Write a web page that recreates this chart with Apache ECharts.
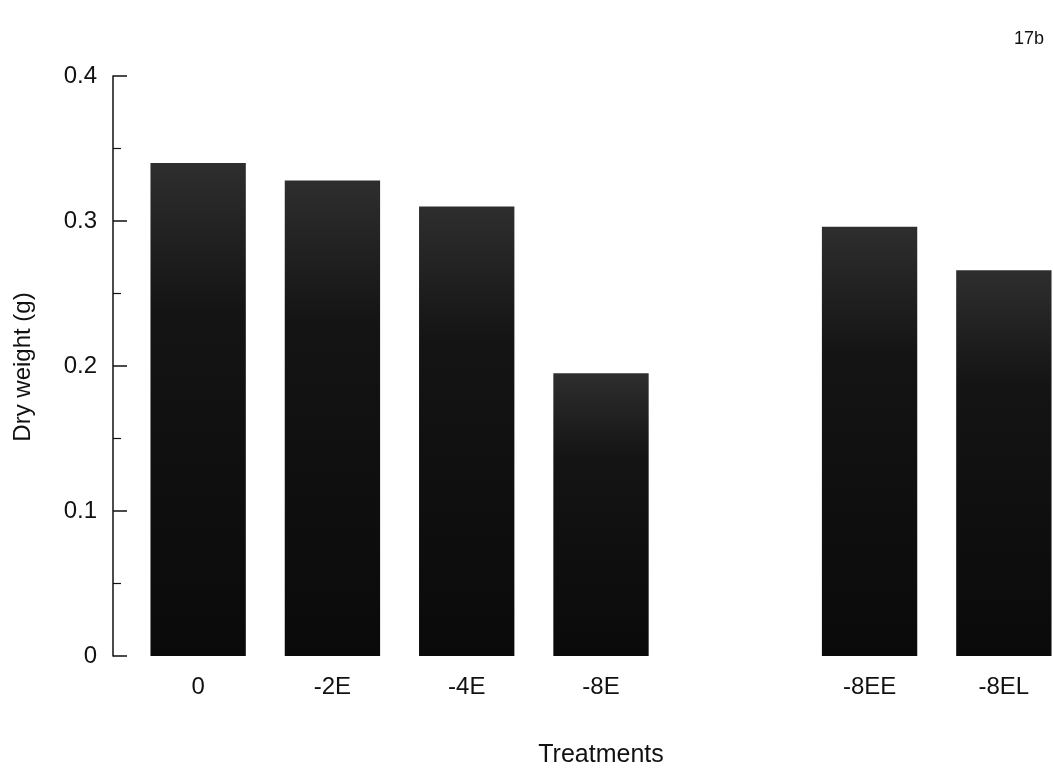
<!DOCTYPE html>
<html>
<head>
<meta charset="utf-8">
<script src="https://cdn.jsdelivr.net/npm/echarts@6/dist/echarts.min.js"></script>
<style>html,body{margin:0;padding:0;background:#fff;}#c{width:1053px;height:771px;}</style>
</head>
<body>
<div id="c"></div>
<script>
var categories = ['0', '-2E', '-4E', '-8E', '', '-8EE', '-8EL'];
var dryWeight = [0.34, 0.328, 0.31, 0.195, '-', 0.296, 0.266];
var yTicks = [0, 0.1, 0.2, 0.3, 0.4];

var chart = echarts.init(document.getElementById('c'));
var font = '"Liberation Sans", Arial, Helvetica, sans-serif';
chart.setOption({
  animation: false,
  backgroundColor: '#ffffff',
  grid: { left: 131, width: 940, top: 76, height: 580, containLabel: false, outerBoundsMode: 'none' },
  xAxis: {
    type: 'category',
    data: categories,
    axisLine: { show: false },
    axisTick: { show: false },
    axisLabel: { color: '#111', fontSize: 24, fontFamily: font, margin: 19 }
  },
  yAxis: {
    type: 'value',
    min: yTicks[0],
    max: yTicks[yTicks.length - 1],
    interval: 0.1,
    offset: 18,
    axisLine: { show: true, lineStyle: { color: '#111', width: 1.5 } },
    axisTick: { show: true, inside: true, length: 14, lineStyle: { color: '#111', width: 1.5 } },
    minorTick: { show: true, splitNumber: 2, length: 8, lineStyle: { color: '#111', width: 1.2 } },
    splitLine: { show: false },
    axisLabel: { color: '#111', fontSize: 24, fontFamily: font, margin: 16,
      formatter: function (v) { return String(Math.round(v * 10) / 10); } }
  },
  series: [{
    type: 'bar',
    data: dryWeight,
    barWidth: '71%',
    itemStyle: {
      color: new echarts.graphic.LinearGradient(0, 0, 0, 1, [
        { offset: 0, color: '#2e2e2e' },
        { offset: 0.3, color: '#141414' },
        { offset: 1, color: '#0a0a0a' }
      ])
    }
  }],
  graphic: [
    { type: 'text', left: 1014, top: 30, style: { text: '17b', fontSize: 18, fontFamily: font, fill: '#111' } },
    { type: 'text', x: 601, y: 755,
      style: { text: 'Treatments', fontSize: 25, fontFamily: font, fill: '#111', align: 'center', verticalAlign: 'middle' } },
    { type: 'text', x: 23, y: 367, rotation: Math.PI / 2,
      style: { text: 'Dry weight (g)', fontSize: 24, fontFamily: font, fill: '#111', align: 'center', verticalAlign: 'middle' } }
  ]
});
</script>
</body>
</html>
